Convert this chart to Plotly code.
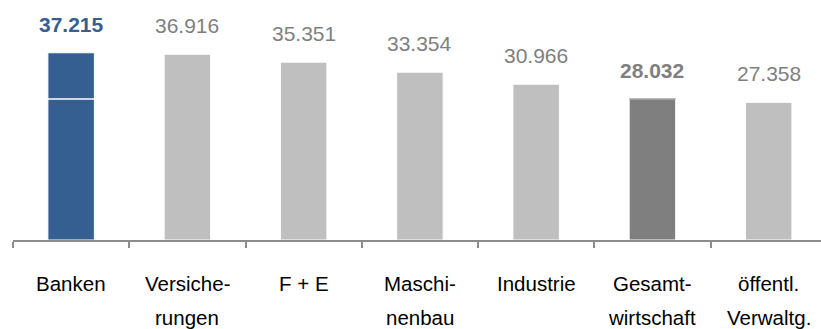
import plotly.graph_objects as go

# Durchschnittliche Vergütung nach Branche
labels_line1 = ["Banken", "Versiche-", "F + E", "Maschi-", "Industrie", "Gesamt-", "öffentl."]
labels_line2 = ["", "rungen", "", "nenbau", "", "wirtschaft", "Verwaltg."]
values = [37.215, 36.916, 35.351, 33.354, 30.966, 28.032, 27.358]
value_text = ["37.215", "36.916", "35.351", "33.354", "30.966", "28.032", "27.358"]

BLUE = "#365F91"
LIGHT = "#BFBFBF"
DARK = "#7F7F7F"

cats = list(range(len(values)))
bar_colors = [BLUE] + [LIGHT] * 4 + [DARK, LIGHT]
text_colors = [BLUE] + [DARK] * 6
bold = [True, False, False, False, False, True, False]

FONT = "Liberation Sans, Arial, sans-serif"

fig = go.Figure()
fig.add_trace(go.Bar(
    x=cats, y=values, width=0.4,
    marker=dict(color=bar_colors, line=dict(color="white", width=1)),
    hoverinfo="skip",
))

# Werte über den Balken
for i, v in enumerate(values):
    t = value_text[i]
    fig.add_annotation(
        x=cats[i], y=v, xref="x", yref="y",
        text=f"<b>{t}</b>" if bold[i] else t,
        showarrow=False, yanchor="bottom", yshift=15,
        font=dict(family=FONT, size=21, color=text_colors[i]),
    )

# Kategorien (zweizeilig)
for i in cats:
    fig.add_annotation(
        x=i, y=0, xref="x", yref="paper", text=labels_line1[i],
        showarrow=False, yanchor="middle", yshift=-43,
        font=dict(family=FONT, size=20.5, color="black"),
    )
    if labels_line2[i]:
        fig.add_annotation(
            x=i, y=0, xref="x", yref="paper", text=labels_line2[i],
            showarrow=False, yanchor="middle", yshift=-77,
            font=dict(family=FONT, size=20.5, color="black"),
        )

# Referenzlinie Gesamtwirtschaft
g = values[5]
fig.add_shape(type="line", xref="x", yref="y", x0=-0.2, x1=0.2, y0=g, y1=g,
              line=dict(color="white", width=1.5), layer="above")
fig.add_shape(type="line", xref="x", yref="y", x0=4.8, x1=5.2, y0=g, y1=g,
              line=dict(color=DARK, width=1), layer="above")

fig.update_layout(
    width=821, height=329,
    margin=dict(l=13, r=0, t=0, b=89),
    plot_bgcolor="white", paper_bgcolor="white",
    showlegend=False,
    bargap=0.6,
    xaxis=dict(
        type="linear", range=[-0.5, 6.45],
        tickmode="array", tickvals=[c - 0.5 for c in cats],
        ticks="outside", ticklen=6, tickcolor="#8C8C8C", tickwidth=1.5,
        showticklabels=False, showgrid=False, zeroline=False,
        showline=True, linecolor="#8C8C8C", linewidth=1.5,
    ),
    yaxis=dict(range=[0, 47.7], visible=False, showgrid=False, zeroline=False),
)

fig.write_html("out.html")
